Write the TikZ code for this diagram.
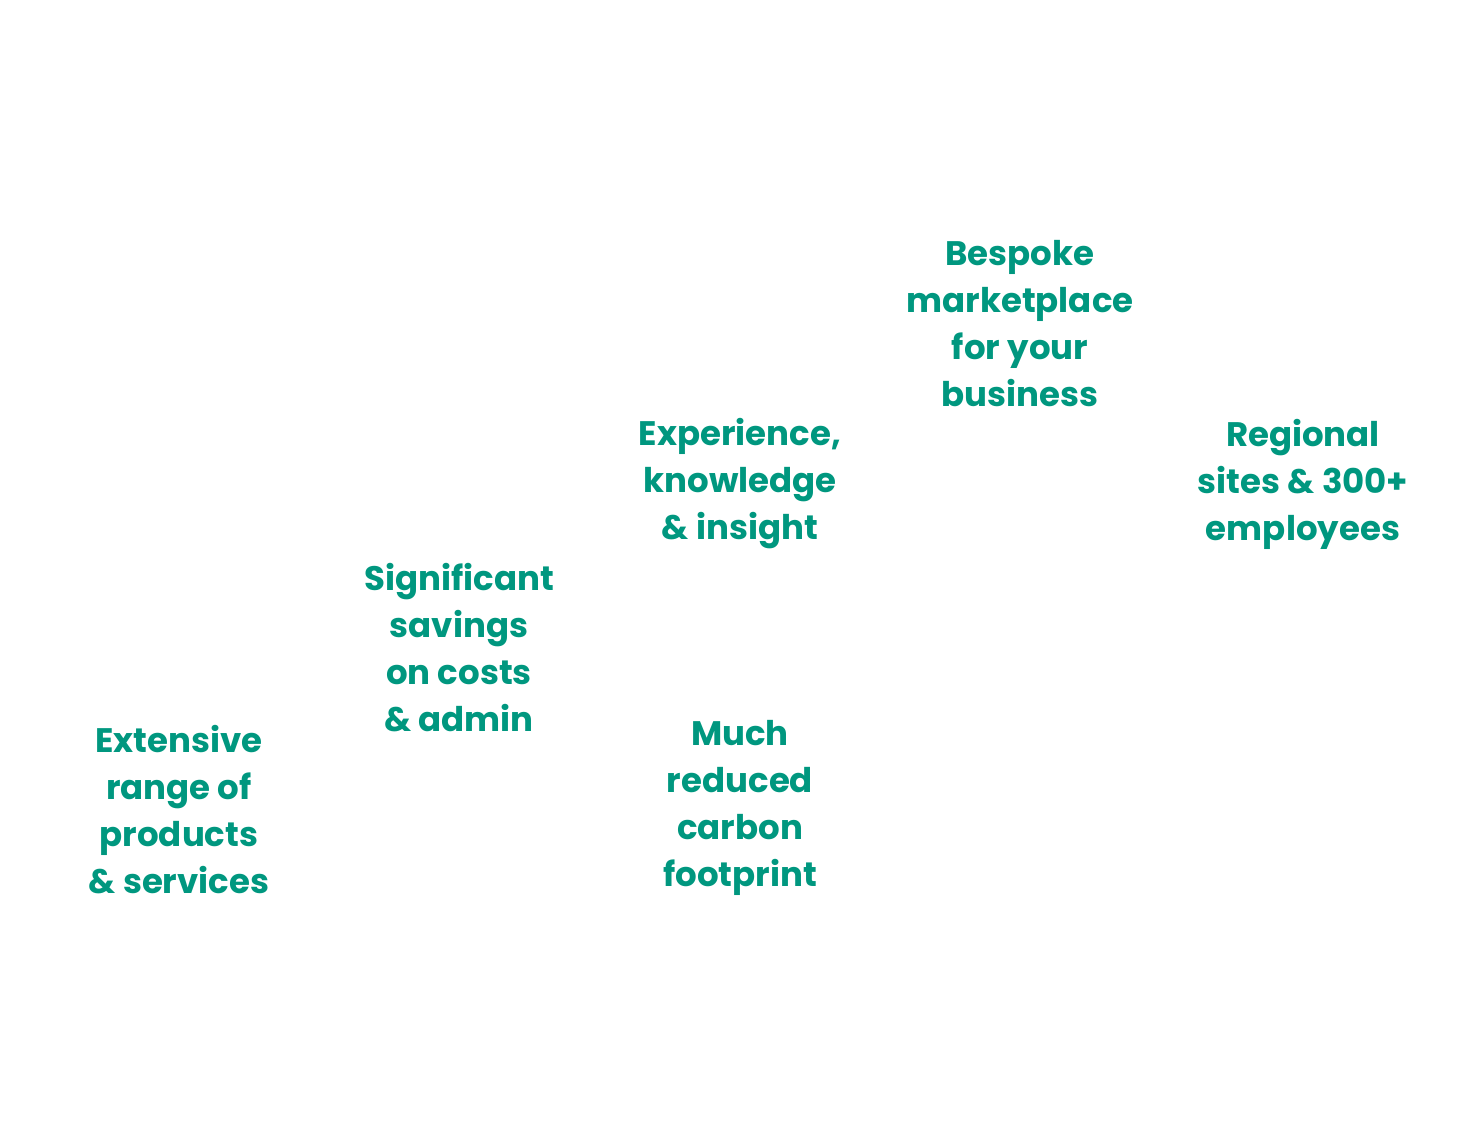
\documentclass[tikz,border=0pt]{standalone}
\usepackage{fontspec}
\setmainfont{Poppins}
\definecolor{teal1}{HTML}{00977F}
\begin{document}
\begin{tikzpicture}[x=0.5pt,y=-0.5pt,
  lbl/.style={text=teal1,align=center,font=\fontsize{17}{23.5}\selectfont\bfseries}]
\useasboundingbox (0,0) rectangle (1483,1126);
\node[lbl] (a) at (179,810) {Extensive\\range of\\products\\\& services};
\node[lbl] (b) at (459,648) {Significant\\savings\\on costs\\\& admin};
\node[lbl] (c) at (740,484) {Experience,\\knowledge\\\& insight};
\node[lbl] (d) at (740,808) {Much\\reduced\\carbon\\footprint};
\node[lbl] (e) at (1020,324) {Bespoke\\marketplace\\for your\\business};
\node[lbl] (f) at (1303,484) {Regional\\sites \& 300+\\employees};
\end{tikzpicture}
\end{document}
